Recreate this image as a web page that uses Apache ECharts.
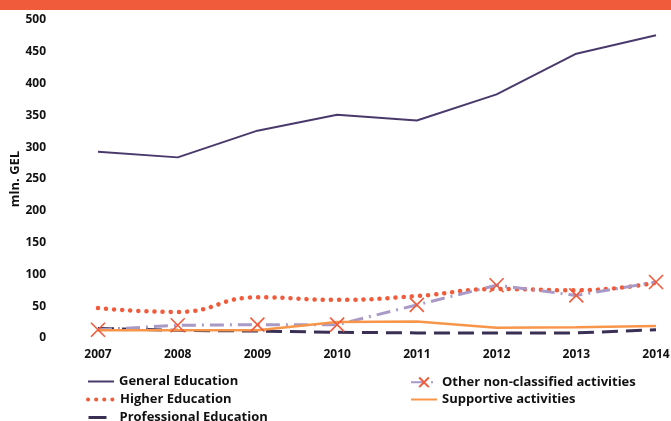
<!DOCTYPE html>
<html><head><meta charset="utf-8">
<script src="https://cdn.jsdelivr.net/npm/echarts@6/dist/echarts.min.js"></script>
<style>html,body{margin:0;padding:0;background:#fff}#c{width:671px;height:421px}</style>
</head><body><div id="c"></div>
<script>
const years = ['2007','2008','2009','2010','2011','2012','2013','2014'];
const generalEducation = [293, 284, 326, 351, 342, 383, 447, 476];
const higherEducation = [47, 41, 64, 60, 66, 77, 75, 87];
const otherActivities = [13, 20, 21, 21, 52, 83, 67, 88];
const supportiveActivities = [12, 12, 12, 25, 26, 16, 17, 19];
const professionalEducation = [15, 12, 11, 9, 8, 8, 8, 13];
const yTicks = {min: 0, max: 500, interval: 50};

const font = '"Open Sans", "Liberation Sans", sans-serif';
const legText = {fontWeight: 'bold', fontSize: 13, color: '#111', fontFamily: font};
function leg(name, left, top, w, hideSymbol, lineStyle) {
  const l = {left: left, top: top, orient: 'horizontal', itemWidth: w, itemHeight: 12, itemGap: 5,
    data: [name], textStyle: legText, padding: 0};
  if (hideSymbol) l.itemStyle = {opacity: 0};
  if (lineStyle) l.lineStyle = lineStyle;
  return l;
}
const chart = echarts.init(document.getElementById('c'));
chart.setOption({
  animation: false,
  textStyle: {fontFamily: font},
  graphic: [{type: 'rect', shape: {x: 0, y: 0, width: 671, height: 10}, style: {fill: '#f05b3b'}}],
  grid: {left: 98, right: 15, top: 20, bottom: 83, outerBoundsMode: 'none', containLabel: false},
  xAxis: {
    type: 'category', data: years, boundaryGap: false,
    axisLine: {show: false}, axisTick: {show: false}, splitLine: {show: false},
    axisLabel: {fontWeight: 'bold', fontSize: 12, color: '#111', margin: 11, fontFamily: font}
  },
  yAxis: {
    type: 'value', min: yTicks.min, max: yTicks.max, interval: yTicks.interval,
    name: 'mln. GEL', nameLocation: 'middle', nameGap: 76, nameRotate: 90, nameMoveOverlap: false,
    nameTextStyle: {fontWeight: 'bold', fontSize: 13, color: '#111', fontFamily: font},
    axisLine: {show: false}, axisTick: {show: false}, splitLine: {show: false},
    axisLabel: {fontWeight: 'bold', fontSize: 12, color: '#111', margin: 52, fontFamily: font}
  },
  legend: [
    leg('General Education', 87, 375, 26, true),
    leg('Higher Education', 86, 393, 27, true, {width: 4, type: [0.1, 8], cap: 'round', color: '#f05b3b'}),
    leg('Professional Education', 87, 411, 26, true, {width: 3, type: [18, 8], color: '#3a2f54'}),
    leg('Other non-classified activities', 410, 375, 26, false),
    leg('Supportive activities', 410, 393, 26, true)
  ],
  series: [
    {name: 'General Education', type: 'line', data: generalEducation, symbol: 'none',
     lineStyle: {color: '#4a3a6c', width: 2}, itemStyle: {color: '#4a3a6c'}},
    {name: 'Higher Education', type: 'line', data: higherEducation, smooth: true, symbol: 'none',
     lineStyle: {color: '#f05b3b', width: 4.5, type: [0.1, 8], cap: 'round'}, itemStyle: {color: '#f05b3b'}},
    {name: 'Professional Education', type: 'line', data: professionalEducation, symbol: 'none',
     lineStyle: {color: '#3a2f54', width: 3, type: [16, 8]}, itemStyle: {color: '#3a2f54'}},
    {name: 'Other non-classified activities', type: 'line', data: otherActivities,
     symbol: 'path://M0,0L10,10M10,0L0,10', symbolSize: 14,
     lineStyle: {color: '#a899c6', width: 3, type: [14, 6, 2, 6]},
     itemStyle: {color: 'none', borderColor: '#f05b3b', borderWidth: 1.6}},
    {name: 'Supportive activities', type: 'line', data: supportiveActivities, symbol: 'none',
     lineStyle: {color: '#f7964a', width: 2.5}, itemStyle: {color: '#f7964a'}}
  ]
});
</script></body></html>
